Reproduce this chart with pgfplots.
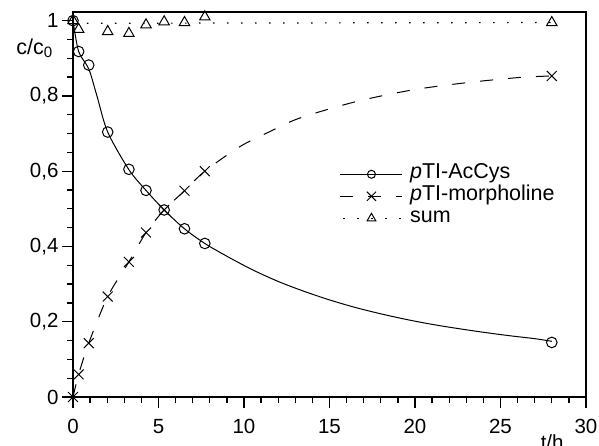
\documentclass[border=0pt]{standalone}
\usepackage{fontspec}
\setmainfont{Liberation Sans}
\usepackage{pgfplots}
\pgfplotsset{compat=1.18}
\begin{document}
\begin{tikzpicture}
\useasboundingbox (-73bp,-49bp) rectangle (526bp,397bp);
\begin{axis}[
  at={(0,0)}, anchor=south west,
  scale only axis, width=513bp, height=385bp,
  xmin=0, xmax=30, ymin=0, ymax=1.023,
  xtick={0,5,10,15,20,25,30}, minor x tick num=4,
  ytick={0,0.2,0.4,0.6,0.8,1}, minor y tick num=3,
  tick align=outside, tick pos=left,
  major tick length=11bp, minor tick length=6bp,
  axis line style={line width=1.6bp},
  every tick/.style={black, line width=1.3bp},
  /pgf/number format/use comma,
  /pgf/number format/assume math mode=true,
  tick label style={font=\fontsize{20.5bp}{24bp}\selectfont},
  xticklabel style={yshift=-8bp},
  xlabel={t/h},
  every axis x label/.style={at={(axis description cs:0.934,-0.096)}, anchor=north, inner sep=0pt, font=\fontsize{20.5bp}{24bp}\selectfont},
  ylabel={c/c\textsubscript{0}},
  every axis y label/.style={at={(axis description cs:-0.039,0.906)}, anchor=east, inner sep=0pt, font=\fontsize{21.5bp}{24bp}\selectfont},
  legend style={draw=none, fill=none, at={(axis description cs:0.52,0.605)}, anchor=north west, inner sep=0pt,
    font=\fontsize{21.5bp}{24bp}\selectfont, row sep=2bp, column sep=7bp,
    nodes={inner sep=0pt, text height=14.5bp, text depth=5.5bp}},
  legend cell align=left,
]
% fitted curves
\addplot[forget plot, black, line width=1bp, smooth] coordinates {
  (0,1.0) (0.33,0.918) (0.92,0.872) (1.4,0.800) (2.03,0.704)
  (3.27,0.604) (4.27,0.549) (5.33,0.497) (6.52,0.447) (7.71,0.408)
  (9,0.374) (10.5,0.338) (12,0.307) (13.5,0.281) (15,0.258) (16.5,0.238)
  (18,0.221) (19.5,0.206) (21,0.193) (22.5,0.182) (24,0.172) (25.5,0.163)
  (27,0.155) (28,0.148)
};
\addplot[forget plot, black, line width=1bp, smooth, dash pattern=on 13bp off 15bp] coordinates {
  (0,0) (0.33,0.06) (0.92,0.143) (2.03,0.267) (3.27,0.359) (4.27,0.437)
  (5.33,0.497) (6.52,0.548) (7.71,0.600) (9.75,0.665) (11.5,0.705)
  (13.25,0.741) (16.56,0.785) (19.87,0.816) (22.98,0.835) (26.1,0.849) (28,0.853)
};
\addplot[forget plot, black, line width=1.2bp, dash pattern=on 1.5bp off 12.5bp] coordinates {
  (0,0.993) (28,0.995)
};
% measured points
\addplot[black, only marks, mark=o, mark size=5.3bp, line width=1bp,
  legend image code/.code={
    \draw[solid, line width=1bp] (0bp,0bp) -- (62bp,0bp);
    \draw[solid, line width=1bp] plot[only marks, mark=o, mark size=4bp] coordinates {(31bp,0bp)};
  }] coordinates {
  (0,1.0) (0.33,0.918) (0.92,0.882) (2.03,0.704) (3.27,0.605) (4.27,0.549)
  (5.33,0.497) (6.52,0.447) (7.71,0.408) (28.0,0.145)
};
\addlegendentry{\textit{p}TI-AcCys}
\addplot[black, only marks, mark=x, mark size=7bp, line width=1bp,
  legend image code/.code={
    \draw[line width=1bp, dash pattern=on 13bp off 15bp] (0bp,0bp) -- (62bp,0bp);
    \draw[solid, line width=1bp] plot[only marks, mark=x, mark size=6.5bp] coordinates {(31bp,0bp)};
  }] coordinates {
  (0,0.0) (0.33,0.060) (0.92,0.143) (2.03,0.267) (3.27,0.359) (4.27,0.437)
  (5.33,0.497) (6.52,0.548) (7.71,0.600) (28.0,0.853)
};
\addlegendentry{\textit{p}TI-morpholine}
\addplot[black, only marks, mark=triangle, mark size=6bp, line width=1bp,
  legend image code/.code={
    \draw[line width=1.2bp, dash pattern=on 1.5bp off 12.5bp] (3bp,0bp) -- (62bp,0bp);
    \draw[solid, line width=1bp] plot[only marks, mark=triangle, mark size=5bp] coordinates {(31bp,0bp)};
  }] coordinates {
  (0,1.0) (0.33,0.977) (2.03,0.971) (3.27,0.966) (4.27,0.989)
  (5.33,0.997) (6.52,0.995) (7.71,1.010) (28.0,0.995)
};
\addlegendentry{sum}
\end{axis}
\end{tikzpicture}
\end{document}
